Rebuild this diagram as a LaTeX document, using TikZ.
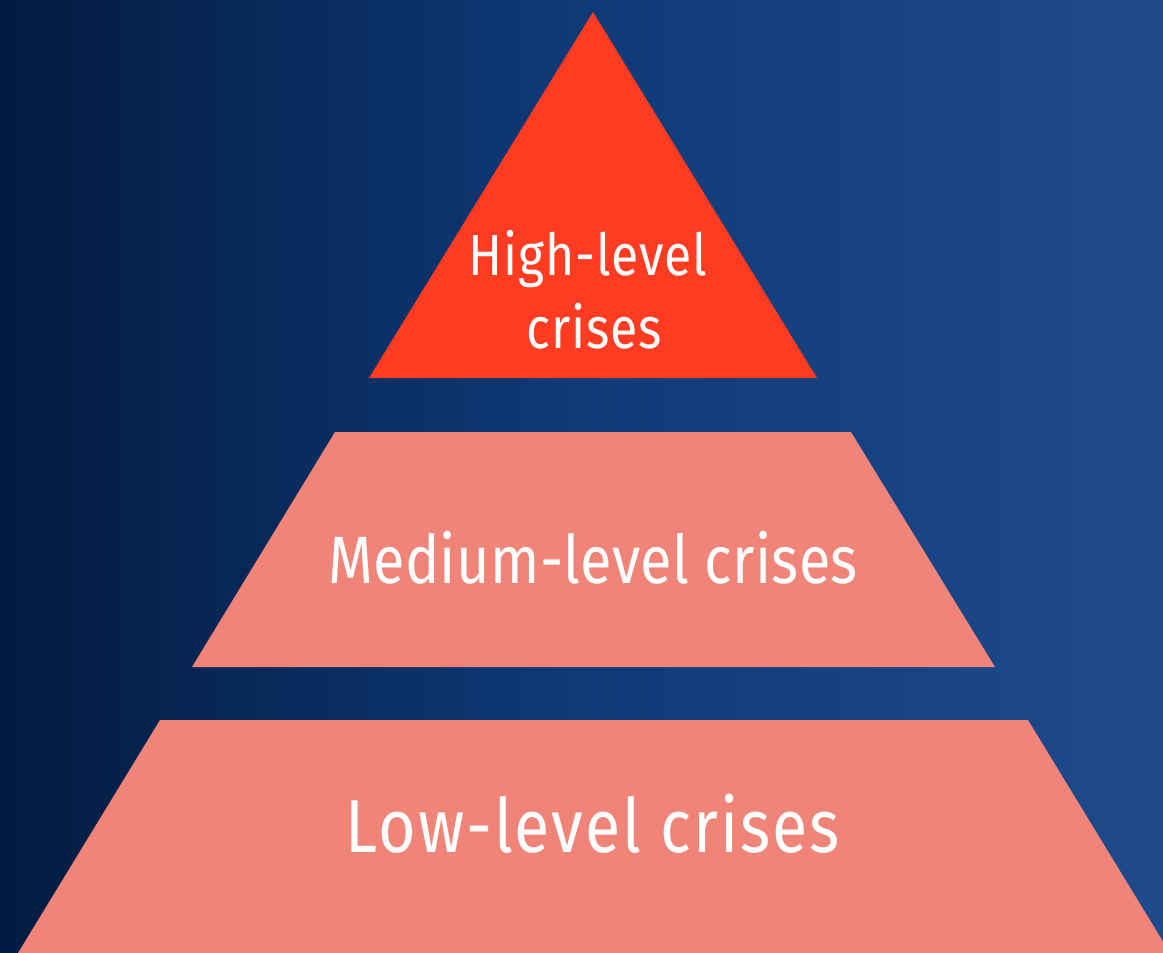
\documentclass[tikz,border=0pt]{standalone}
\usepackage{fontspec}
\setmainfont{Fira Sans}[FakeStretch=0.86]
\definecolor{bgleft}{HTML}{021B40}
\definecolor{bgmid}{HTML}{0F3A78}
\definecolor{bgright}{HTML}{1F4B8D}
\definecolor{topred}{HTML}{FF3B21}
\definecolor{salmon}{HTML}{F08478}
\tikzset{
  layer/.style={draw=none},
  lbl/.style={text=white, anchor=base, inner sep=0pt}
}
\begin{document}
\begin{tikzpicture}[x=1pt,y=-1pt]
\useasboundingbox (0,0) rectangle (1163,953);
\shade[left color=bgleft, right color=bgright, middle color=bgmid] (0,0) rectangle (1163,953);
\fill[layer, fill=topred] (593,12) -- (817,378) -- (369,378) -- cycle;
\fill[layer, fill=salmon] (335,432) -- (851,432) -- (995,667) -- (192,667) -- cycle;
\fill[layer, fill=salmon] (160,720) -- (1028,720) -- (1170,953) -- (18,953) -- cycle;
\node[lbl, font=\fontsize{58}{58}\selectfont\addfontfeatures{LetterSpace=1.5}] (high1) at (588,275) {High-level};
\node[lbl, font=\fontsize{58}{58}\selectfont\addfontfeatures{LetterSpace=1.5}] (high2) at (594,348) {crises};
\node[lbl, font=\fontsize{67}{67}\selectfont\addfontfeatures{LetterSpace=0.5}] (med) at (593,583) {Medium-level crises};
\node[lbl, font=\fontsize{75}{75}\selectfont\addfontfeatures{LetterSpace=2.7}] (low) at (593,852) {Low-level crises};
\end{tikzpicture}
\end{document}
